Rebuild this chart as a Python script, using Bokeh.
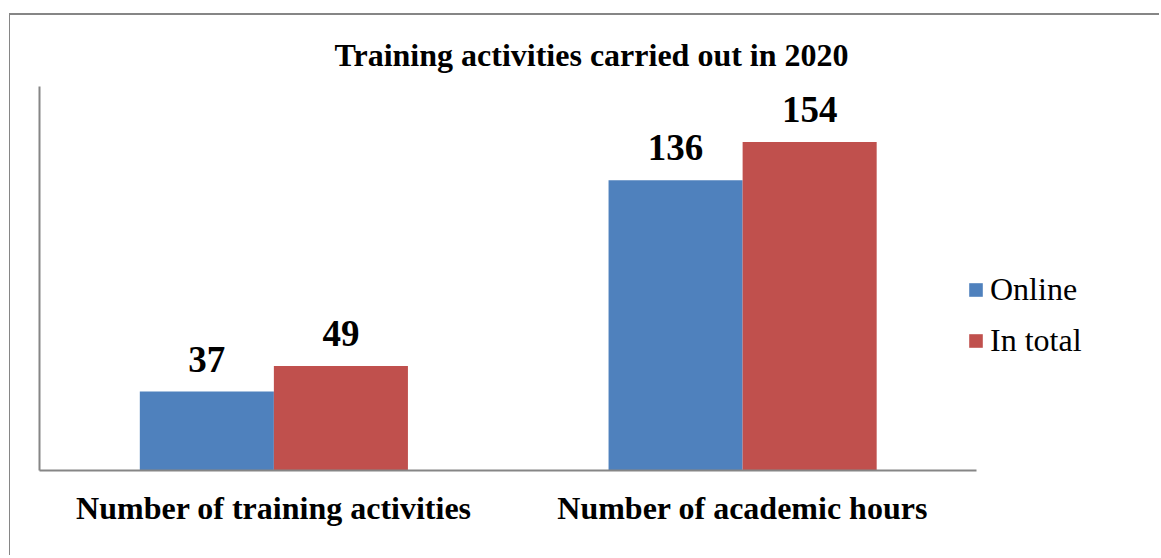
from bokeh.plotting import figure
from bokeh.models import (ColumnDataSource, Range1d, LabelSet, Legend, LegendItem, FixedTicker)
from bokeh.transform import dodge
from bokeh.embed import file_html
from bokeh.resources import INLINE

# ---- data ----
categories = ["Number of training activities", "Number of academic hours"]
online = [37, 136]
in_total = [49, 154]
series_names = ["Online", "In total"]
title_text = "Training activities carried out in 2020"

BLUE = "#4F81BD"
RED = "#C0504D"
GRAY = "#868686"
SERIF = "Liberation Serif"

xpos = [i + 0.5 for i in range(len(categories))]
src = ColumnDataSource(dict(x=xpos, cat=categories, online=online, total=in_total,
                            online_lbl=[str(v) for v in online],
                            total_lbl=[str(v) for v in in_total]))

# frame extends past the last category to leave room for the legend
X_END = 2.3915
p = figure(x_range=Range1d(0, X_END), y_range=Range1d(0, 180),
           width=1150, height=542, output_backend="svg", toolbar_location=None,
           min_border_left=29, min_border_right=0, min_border_top=71, min_border_bottom=87)
p.styles = {"margin-left": "9px", "margin-top": "13px",
            "border-left": f"1px solid {GRAY}", "border-top": f"2px solid {GRAY}"}

p.outline_line_color = None
p.grid.visible = False
p.background_fill_color = "white"
p.border_fill_color = "white"

bw = 0.286
r1 = p.vbar(x=dodge("x", -bw / 2), top="online", width=bw, source=src,
            fill_color=BLUE, line_color=None)
r2 = p.vbar(x=dodge("x", bw / 2), top="total", width=bw, source=src,
            fill_color=RED, line_color=None)

for col, ycol, off in (("online_lbl", "online", -bw / 2), ("total_lbl", "total", bw / 2)):
    p.add_layout(LabelSet(x=dodge("x", off), y=ycol, text=col, source=src,
                          y_offset=20, text_align="center", text_baseline="alphabetic",
                          text_font=SERIF, text_font_size="37px", text_font_style="bold",
                          text_color="black"))

# axes
p.xaxis.ticker = FixedTicker(ticks=xpos)
p.xaxis.major_label_overrides = {x: c for x, c in zip(xpos, categories)}
p.xaxis.bounds = (0, len(categories))
p.xaxis.axis_line_color = GRAY
p.xaxis.axis_line_width = 2
p.xaxis.major_tick_line_color = None
p.xaxis.minor_tick_line_color = None
p.xaxis.major_label_text_font = SERIF
p.xaxis.major_label_text_font_size = "32px"
p.xaxis.major_label_text_font_style = "bold"
p.xaxis.major_label_text_color = "black"
p.xaxis.major_label_standoff = 13

p.yaxis.ticker = FixedTicker(ticks=[])
p.yaxis.axis_line_color = GRAY
p.yaxis.axis_line_width = 2
p.yaxis.major_tick_line_color = None
p.yaxis.minor_tick_line_color = None
p.yaxis.major_label_text_color = None

# title
p.title.text = title_text
p.title.align = "left"
p.title.offset = 295
p.title.text_font = SERIF
p.title.text_font_size = "32px"
p.title.text_font_style = "bold"
p.title.text_color = "black"
p.title.standoff = 28

legend = Legend(items=[LegendItem(label=series_names[0], renderers=[r1]),
                       LegendItem(label=series_names[1], renderers=[r2])],
                location=(928, 111), orientation="vertical",
                glyph_width=17, glyph_height=17, label_height=37, spacing=14,
                label_standoff=6, padding=0, margin=0,
                border_line_color=None, background_fill_alpha=0,
                label_text_font=SERIF, label_text_font_size="32px", label_text_color="black")
p.add_layout(legend, "center")

open("out.html", "w").write(file_html(p, INLINE))
